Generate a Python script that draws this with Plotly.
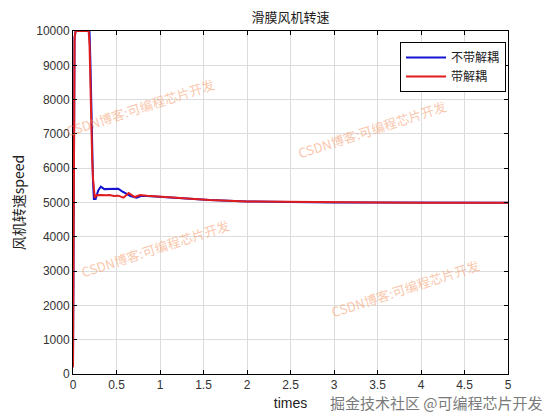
import plotly.graph_objects as go

# Data
t_red = [0, 0.008, 0.018, 0.03, 0.18, 0.19, 0.20, 0.21, 0.22, 0.23, 0.25, 0.27, 0.32, 0.38, 0.42, 0.47, 0.52, 0.58, 0.64, 0.71, 0.77, 0.85, 1.0, 1.3, 1.57, 2.0, 2.5, 2.72, 3.0, 3.5, 4.0, 4.5, 5.0]
v_red = [200, 6000, 9800, 10000, 10000, 9600, 8300, 7200, 6300, 5700, 5140, 5210, 5220, 5210, 5220, 5190, 5200, 5140, 5280, 5160, 5220, 5200, 5170, 5120, 5070, 5030, 5015, 5006, 5000, 5000, 4995, 4995, 4990]

t_blue = [0, 0.008, 0.018, 0.03, 0.19, 0.20, 0.21, 0.22, 0.23, 0.24, 0.26, 0.29, 0.32, 0.36, 0.45, 0.52, 0.56, 0.60, 0.66, 0.73, 0.78, 0.85, 1.0, 1.3, 1.57, 2.0, 2.5, 2.72, 3.0, 3.5, 4.0, 4.5, 5.0]
v_blue = [200, 6000, 9800, 10000, 10000, 9100, 7800, 6500, 5600, 5100, 5100, 5350, 5460, 5390, 5390, 5400, 5330, 5270, 5190, 5140, 5190, 5190, 5170, 5120, 5070, 5030, 5015, 5006, 5000, 5000, 4995, 4995, 4990]

x_ticks = [0, 0.5, 1, 1.5, 2, 2.5, 3, 3.5, 4, 4.5, 5]
y_ticks = [0, 1000, 2000, 3000, 4000, 5000, 6000, 7000, 8000, 9000, 10000]

title_text = "滑膜风机转速"
x_label = "times"
y_label = "风机转速speed"
name_blue = "不带解耦"
name_red = "带解耦"
wm_text = "CSDN博客:可编程芯片开发"
wm_positions = [(140, 107), (372, 130), (155, 248), (405, 288)]
footer_text = "掘金技术社区 @可编程芯片开发"

CJK = "Noto Sans CJK SC"

fig = go.Figure()
fig.add_trace(go.Scatter(x=t_blue, y=v_blue, mode="lines", name=name_blue,
                         line=dict(color="#1414d2", width=2)))
fig.add_trace(go.Scatter(x=t_red, y=v_red, mode="lines", name=name_red,
                         line=dict(color="#e01c1c", width=2)))

# page has an 8px body margin: figure sized to fit inside the window
OFF = 8
W, H = 560 - 2 * OFF, 420 - 2 * OFF
# plot area in page pixels: x 73..508, y 31..374
L, T = 73 - OFF, 31 - OFF
R = (W + OFF) - 508
B = (H + OFF) - 374
PW, PH = W - L - R, H - T - B


def px2paper(px, py):
    return (px - 73) / PW, 1 - (py - 31) / PH


axis_common = dict(showline=True, linecolor="black", linewidth=1, mirror="ticks",
                   ticks="inside", ticklen=4, tickcolor="black", automargin=False,
                   showgrid=True, gridcolor="#dcdcdc", gridwidth=1, zeroline=False,
                   tickfont=dict(family="Liberation Sans, Arial", size=12, color="#333"))

lx, ly = px2paper(506, 42)
fig.update_layout(
    width=W, height=H,
    margin=dict(l=L, r=R, t=T, b=B, autoexpand=False),
    paper_bgcolor="white", plot_bgcolor="white",
    title=dict(text=title_text, x=(L + PW / 2) / W, xanchor="center", y=1 - (17 - OFF) / H, yanchor="middle",
               font=dict(family=CJK, size=13, color="#222")),
    xaxis=dict(range=[0, 5], tickvals=x_ticks, ticktext=[f"{v:g}" for v in x_ticks],
               title=dict(text=x_label, font=dict(family="Liberation Sans, Arial", size=14, color="#222"), standoff=6),
               **axis_common),
    yaxis=dict(range=[0, 10000], tickvals=y_ticks, ticktext=[str(v) for v in y_ticks],
               title=dict(text=y_label, font=dict(family=CJK + ", Liberation Sans", size=14, color="#222"), standoff=10),
               **axis_common),
    legend=dict(x=lx, xanchor="right", y=ly, yanchor="top",
                bgcolor="white", bordercolor="black", borderwidth=1,
                font=dict(family=CJK, size=12, color="#222"), tracegroupgap=0,
                itemwidth=40),
    showlegend=True,
)

for (px, py) in wm_positions:
    ax, ay = px2paper(px, py)
    fig.add_annotation(text=wm_text, xref="paper", yref="paper", x=ax, y=ay,
                       xanchor="center", yanchor="middle",
                       showarrow=False, textangle=-18,
                       font=dict(family=CJK, size=13, color="rgba(245,150,100,0.55)"))

fx, fy = px2paper(436, 402)
fig.add_annotation(text=footer_text, xref="paper", yref="paper", x=fx, y=fy,
                   showarrow=False, xanchor="center", yanchor="middle",
                   font=dict(family=CJK, size=15, color="#7a7a7a"))

fig.write_html("out.html")
